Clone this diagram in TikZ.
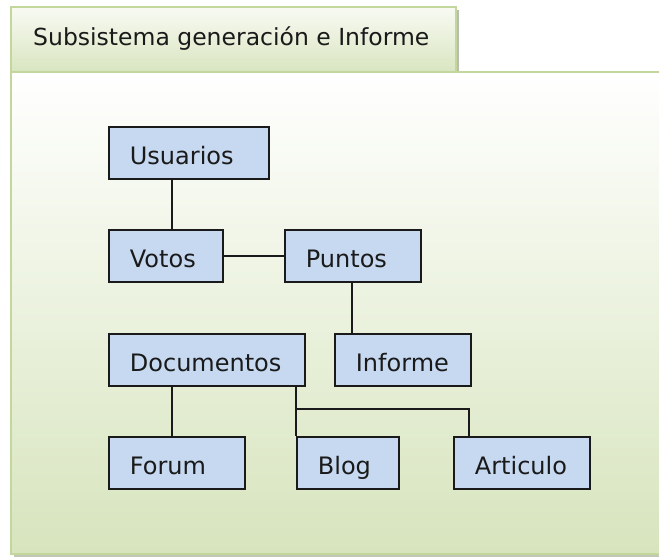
\documentclass[tikz,border=0pt]{standalone}
\usepackage{fontspec}
\setmainfont{DejaVu Sans}
\definecolor{boxblue}{HTML}{C6D9F1}
\definecolor{bodygreen}{HTML}{D7E4BD}
\definecolor{tabtop}{HTML}{F8FAF3}
\definecolor{edgegreen}{HTML}{C3D69B}
\definecolor{shadowgray}{HTML}{A6AE98}
\definecolor{inkdark}{HTML}{1A1A1A}
\tikzset{
  entity/.style={draw=inkdark, line width=1.8pt, fill=boxblue, anchor=north west,
    minimum height=52pt, inner xsep=21pt, inner ysep=0pt, align=left,
    text height=23pt, text depth=0pt, font=\fontsize{24}{28}\selectfont, text=inkdark},
  link/.style={draw=inkdark, line width=1.5pt}
}
\begin{document}
\begin{tikzpicture}[x=1pt,y=-1pt]
\useasboundingbox (0,0) rectangle (659,557);
% shadows
\fill[shadowgray!70] (14,75) rectangle (664,557);
\fill[shadowgray!80] (14,10) rectangle (459,75);
% body
\path[draw=edgegreen, line width=1.5pt, top color=white, bottom color=bodygreen]
  (11,72) rectangle (662,554);
% tab
\path[draw=edgegreen, line width=1.5pt, top color=tabtop, bottom color=bodygreen!95!white]
  (11,7) rectangle (456,72);
\node[anchor=base west, font=\fontsize{23.5}{28}\selectfont, text=inkdark, inner sep=0pt] (title) at (33,45) {Subsistema generación e Informe};
% entities
\node[entity, text width=118pt] (usuarios) at (108,126) {Usuarios};
\node[entity, text width=72pt] (votos) at (108,229) {Votos};
\node[entity, text width=94pt] (puntos) at (284,229) {Puntos};
\node[entity, text width=94pt] (informe) at (334,333) {Informe};
\node[entity, text width=154pt] (documentos) at (108,333) {Documentos};
\node[entity, text width=94pt] (forum) at (108,436) {Forum};
\node[entity, text width=60pt] (blog) at (296,436) {Blog};
\node[entity, text width=94pt] (articulo) at (453,436) {Articulo};
% connectors
\draw[link] (usuarios.south -| 172,0) -- (votos.north -| 172,0);
\draw[link] (votos.east) -- (puntos.west);
\draw[link] (puntos.south -| 352,0) -- (informe.north -| 352,0);
\draw[link] (documentos.south -| 172,0) -- (forum.north -| 172,0);
\draw[link] (documentos.south -| blog.west) -- (blog.north west);
\draw[link] (blog.west |- 0,409) -| (articulo.north -| 469,0);
\end{tikzpicture}
\end{document}
